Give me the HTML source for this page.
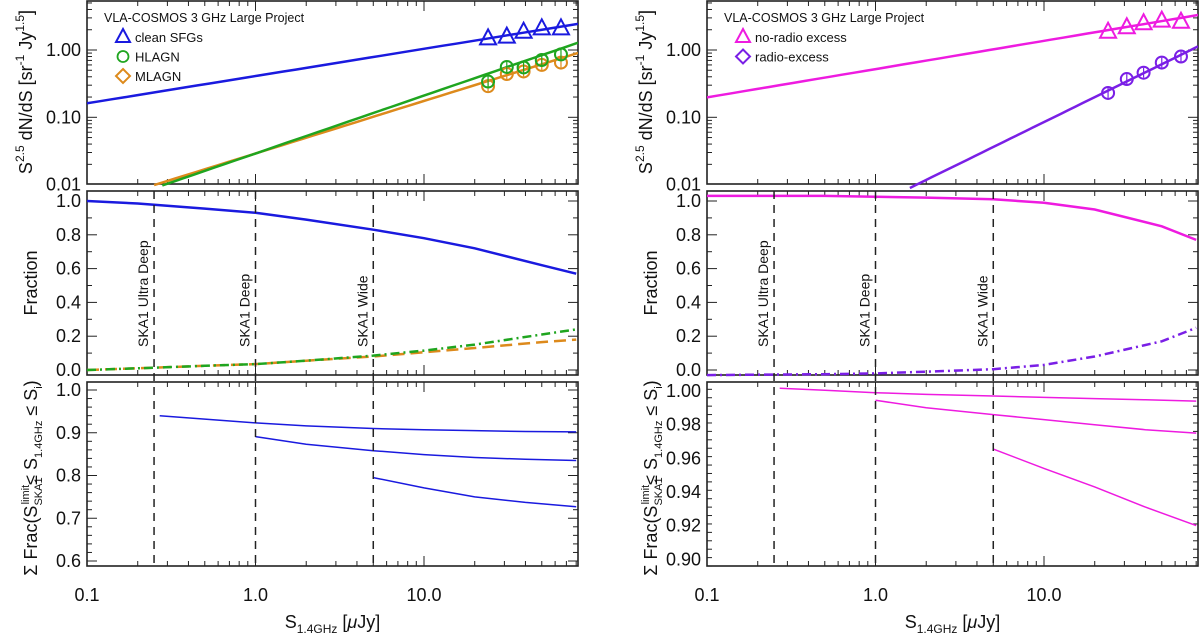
<!DOCTYPE html>
<html><head><meta charset="utf-8"><style>
html,body{margin:0;padding:0;background:#fff;}
svg{display:block;font-family:"Liberation Sans",Arial,sans-serif;}
</style></head><body>
<svg id="chart" width="1200" height="637" viewBox="0 0 1200 637" xmlns="http://www.w3.org/2000/svg"></svg>
<script>
// ---- data ----
const curveX = [0.1,0.2,0.5,1,2,5,10,20,50,80];
const obsX = [24,31,39,50,65];
const sfgObs = [1.49,1.58,1.87,2.1,2.1];
const hlagnObs = [0.34,0.56,0.55,0.71,0.86];
const mlagnObs = [0.29,0.44,0.48,0.60,0.65];
const noRadioObs = [1.87,2.18,2.5,2.73,2.63];
const radioExObs = [0.23,0.37,0.46,0.65,0.80];
// power-law fits: [x range lo, hi, norm at 1uJy, slope]
const sfgFit = [0.1,82,0.41,0.405];
const hlagnFit = [0.28,82,0.029,0.86];
const mlagnFit = [0.25,82,0.029,0.78];
const noRadioFit = [0.1,82,0.52,0.42];
const radioExFit = [1.6,82,0.005,1.23];
const sfgFrac = [1.0,0.985,0.955,0.93,0.89,0.83,0.78,0.72,0.62,0.57];
const hlagnFrac = [0.0,0.01,0.025,0.035,0.055,0.085,0.115,0.15,0.21,0.24];
const mlagnFrac = [0.0,0.01,0.025,0.035,0.055,0.08,0.105,0.13,0.165,0.18];
const noRadioFrac = [1.03,1.03,1.03,1.025,1.02,1.01,0.99,0.95,0.85,0.77];
const radioExFrac = [-0.03,-0.028,-0.025,-0.02,-0.01,0.005,0.03,0.08,0.17,0.25];
const skaLimits = [0.25,1.0,5.0];
const skaNames = ["SKA1 Ultra Deep","SKA1 Deep","SKA1 Wide"];
const cumX1 = [0.27,0.5,1,2,5,10,20,40,80];
const cumSfg1 = [0.94,0.932,0.923,0.916,0.910,0.907,0.905,0.903,0.902];
const cumX2 = [1,2,5,10,20,40,80];
const cumSfg2 = [0.891,0.873,0.858,0.849,0.842,0.838,0.835];
const cumX3 = [5,10,20,40,80];
const cumSfg3 = [0.795,0.771,0.75,0.737,0.727];
const cumNR1 = [1.0016,1.0005,0.999,0.998,0.997,0.9962,0.9955,0.9948,0.994];
const cumNR2 = [0.9945,0.990,0.986,0.983,0.980,0.977,0.975];
const cumNR3 = [0.9655,0.954,0.943,0.931,0.92];
const xTickLabels = ["0.1","1.0","10.0"];
const xTickVals = [0.1,1,10];

const NS="http://www.w3.org/2000/svg";
const svg=document.getElementById('chart');
function el(tag,attrs,parent){const e=document.createElementNS(NS,tag);for(const k in attrs)e.setAttribute(k,attrs[k]);(parent||svg).appendChild(e);return e;}

function makePanel(x0){
  const x1=x0+491;
  const sx=v=>x0+168.5*(Math.log10(v)+1);
  return {x0,x1,sx};
}
const L=makePanel(87), R=makePanel(707);
const TOP={y0:1,y1:184,sy:v=>50-67.3*Math.log10(v)};
const MID={y0:191,y1:375,sy:v=>370-169*v};
const BOTL={y0:382,y1:566,sy:v=>390+427.5*(1-v)};
const BOTR={y0:382,y1:566,sy:v=>391+1683*(1-v)};

function frame(P,Y,name){
  const g=el('g',{});
  
  
  for(let d=-1;d<=1;d++){for(let m=1;m<=9;m++){const v=m*Math.pow(10,d);const x=P.sx(v);if(x>P.x1+0.5)continue;const len=m==1?10:5;
    el('line',{x1:x,x2:x,y1:Y.y1,y2:Y.y1-len,stroke:'#222','stroke-width':1},g);
    el('line',{x1:x,x2:x,y1:Y.y0,y2:Y.y0+len,stroke:'#222','stroke-width':1},g);}}
  el('rect',{x:P.x0,y:Y.y0,width:P.x1-P.x0,height:Y.y1-Y.y0,fill:'none',stroke:'#222','stroke-width':1.6},g);
  return g;
}
function yticks(P,Y,vals,major,labels,name){
  const g=el('g',{});
  
  
  vals.forEach((v,i)=>{const y=Y.sy(v);if(y<Y.y0-0.5||y>Y.y1+0.5)return;const len=major[i]?10:5;
    el('line',{x1:P.x0,x2:P.x0+len,y1:y,y2:y,stroke:'#222','stroke-width':1},g);
    el('line',{x1:P.x1,x2:P.x1-len,y1:y,y2:y,stroke:'#222','stroke-width':1},g);});
  labels.forEach(([v,t])=>{const tx=el('text',{x:P.x0-6,y:Y.sy(v)+6,'text-anchor':'end','font-size':18,fill:'#111'},g);tx.textContent=t;});
}
function path(P,Y,xs,ys,color,w,dash,name){
  let d='';xs.forEach((x,i)=>{d+=(i?'L':'M')+P.sx(x).toFixed(1)+','+Y.sy(ys[i]).toFixed(1);});
  const p=el('path',{d,fill:'none',stroke:color,'stroke-width':w,'stroke-dasharray':dash||'none','clip-path':'url(#clip'+(P===L?'L':'R')+')'});
  
  
}
function fitLine(P,fit,color,name){
  const xs=[],ys=[];for(let i=0;i<=40;i++){const lx=Math.log10(fit[0])+(Math.log10(fit[1])-Math.log10(fit[0]))*i/40;const x=Math.pow(10,lx);xs.push(x);ys.push(fit[2]*Math.pow(x,fit[3]));}
  path(P,TOP,xs,ys,color,2.5,null,name);
}
function triangles(P,xs,ys,color,name){xs.forEach((x,i)=>{const cx=P.sx(x),cy=TOP.sy(ys[i]);
  const t=el('path',{d:`M${cx-8},${cy+6}L${cx+8},${cy+6}L${cx},${cy-9}Z`,fill:'none',stroke:color,'stroke-width':2});
  
  });}
function circles(P,xs,ys,color,r,name){xs.forEach((x,i)=>{const cx=P.sx(x),cy=TOP.sy(ys[i]);
  const c=el('circle',{cx,cy,r,fill:'none',stroke:color,'stroke-width':2});
  
  
  el('line',{x1:cx,x2:cx,y1:cy-r+1,y2:cy+r-1,stroke:color,'stroke-width':1.2});});}

const defs=el('defs',{});
[['L',L],['R',R]].forEach(([k,P])=>{const cp=el('clipPath',{id:'clip'+k},defs);el('rect',{x:P.x0,y:0,width:491,height:637},cp);});

function skaLines(P){
  skaLimits.forEach((v,i)=>{const x=P.sx(v);
    const ln=el('line',{x1:x,x2:x,y1:MID.y0,y2:BOTL.y1,stroke:'#222','stroke-width':1.5,'stroke-dasharray':'8,6'});
    
    
    const t=el('text',{x:0,y:0,'font-size':14,fill:'#111','text-anchor':'start',transform:`translate(${x-6},347) rotate(-90)`});
    
    
    t.textContent=skaNames[i];});
}

function axesCommon(P,BOT,botVals,botMajor,botLabels,side){
  frame(P,TOP,side+'-top-frame');frame(P,MID,side+'-mid-frame');frame(P,BOT,side+'-bottom-frame');
  const tv=[],tm=[];for(let d=-2;d<=0;d++)for(let m=1;m<=9;m++){tv.push(m*Math.pow(10,d));tm.push(m==1);}
  yticks(P,TOP,tv,tm,[[0.01,'0.01'],[0.1,'0.10'],[1,'1.00']],side+'-top-y-ticks');
  const mv=[],mm=[];for(let i=0;i<=11;i++){mv.push(i*0.1);mm.push(i%2==0);}
  yticks(P,MID,mv,mm,[[0,'0.0'],[0.2,'0.2'],[0.4,'0.4'],[0.6,'0.6'],[0.8,'0.8'],[1.0,'1.0']],side+'-mid-y-ticks');
  yticks(P,BOT,botVals,botMajor,botLabels,side+'-bottom-y-ticks');
  xTickVals.forEach((v,i)=>{const t=el('text',{x:P.sx(v),y:601,'text-anchor':'middle','font-size':18,fill:'#111'});
    
    
    t.textContent=xTickLabels[i];});
  const xt=el('text',{x:(P.x0+P.x1)/2,y:628,'text-anchor':'middle','font-size':18,fill:'#111'});
  
  
  xt.innerHTML='S<tspan font-size="12" dy="5">1.4GHz</tspan><tspan dy="-5"> [</tspan><tspan font-style="italic">μ</tspan>Jy]';
  const yx=P.x0-60;
  const t1=el('text',{'font-size':18,fill:'#111','text-anchor':'middle',transform:`translate(${yx+5},92) rotate(-90)`});
  
  
  t1.innerHTML='S<tspan font-size="12" dy="-8">2.5</tspan><tspan dy="8"> dN/dS  [sr</tspan><tspan font-size="12" dy="-8">-1</tspan><tspan dy="8"> Jy</tspan><tspan font-size="12" dy="-8">1.5</tspan><tspan dy="8">]</tspan>';
  const t2=el('text',{'font-size':18,fill:'#111','text-anchor':'middle',transform:`translate(${yx+10},283) rotate(-90)`});
  
  
  t2.textContent='Fraction';
  const t3=el('text',{'font-size':18,fill:'#111','text-anchor':'middle',transform:`translate(${yx+10},478) rotate(-90)`});
  
  
  t3.innerHTML='Σ Frac(S<tspan font-size="11" dy="5">SKA1</tspan><tspan font-size="11" dx="-27" dy="-13">limit</tspan><tspan dy="8">≤ S</tspan><tspan font-size="11" dy="5">1.4GHz</tspan><tspan dy="-5"> ≤ S</tspan><tspan font-size="11" dy="5">i</tspan><tspan dy="-5">)</tspan>';
}
function legend(P,items){
  const g=el('g',{});
  
  
  const h=el('text',{x:P.x0+17,y:22,'font-size':12.5,fill:'#111'},g);h.textContent='VLA-COSMOS 3 GHz Large Project';
  items.forEach(([shape,color,label],i)=>{const cy=37+i*19.5,cx=P.x0+36;
    if(shape=='tri')el('path',{d:`M${cx-7},${cy+5}L${cx+7},${cy+5}L${cx},${cy-8}Z`,fill:'none',stroke:color,'stroke-width':2},g);
    else if(shape=='circ')el('circle',{cx,cy,r:5.5,fill:'none',stroke:color,'stroke-width':1.8},g);
    else el('path',{d:`M${cx},${cy-7}L${cx+7},${cy}L${cx},${cy+7}L${cx-7},${cy}Z`,fill:'none',stroke:color,'stroke-width':2},g);
    const t=el('text',{x:cx+12,y:cy+5,'font-size':13,fill:'#111'},g);t.textContent=label;});
}

const BLUE='#1a1adf',GREEN='#1fa51f',ORANGE='#dd8a1c',MAG='#ee1be0',PURP='#7a1fe6';
const blv=[],blm=[];for(let v=0.58;v<=1.021;v+=0.02){blv.push(+v.toFixed(2));blm.push(Math.abs(v*10-Math.round(v*10))<0.01);}
axesCommon(L,BOTL,blv,blm,[[0.6,'0.6'],[0.7,'0.7'],[0.8,'0.8'],[0.9,'0.9'],[1.0,'1.0']],'left');
const brv=[],brm=[];for(let v=0.896;v<=1.006;v+=0.005){brv.push(+v.toFixed(3));brm.push(Math.abs(v*50-Math.round(v*50))<0.01);}
axesCommon(R,BOTR,brv,brm,[[0.9,'0.90'],[0.92,'0.92'],[0.94,'0.94'],[0.96,'0.96'],[0.98,'0.98'],[1.0,'1.00']],'right');

fitLine(L,sfgFit,BLUE,'sfg-fit');fitLine(L,mlagnFit,ORANGE,'mlagn-fit');fitLine(L,hlagnFit,GREEN,'hlagn-fit');
triangles(L,obsX,sfgObs,BLUE,'sfg-point');
circles(L,obsX,mlagnObs,ORANGE,6,'mlagn-point');circles(L,obsX,hlagnObs,GREEN,6,'hlagn-point');
legend(L,[['tri',BLUE,'clean SFGs'],['circ',GREEN,'HLAGN'],['dia',ORANGE,'MLAGN']]);
path(L,MID,curveX,sfgFrac,BLUE,2.5,null,'sfg-fraction');
path(L,MID,curveX,mlagnFrac,ORANGE,2.5,'12,6','mlagn-fraction');
path(L,MID,curveX,hlagnFrac,GREEN,2.5,'9,4,2,4','hlagn-fraction');
path(L,BOTL,cumX1,cumSfg1,BLUE,1.5,null,'cum-frac-ultradeep');
path(L,BOTL,cumX2,cumSfg2,BLUE,1.5,null,'cum-frac-deep');
path(L,BOTL,cumX3,cumSfg3,BLUE,1.5,null,'cum-frac-wide');
skaLines(L);

fitLine(R,noRadioFit,MAG,'no-radio-excess-fit');fitLine(R,radioExFit,PURP,'radio-excess-fit');
triangles(R,obsX,noRadioObs,MAG,'no-radio-excess-point');
circles(R,obsX,radioExObs,PURP,6,'radio-excess-point');
legend(R,[['tri',MAG,'no-radio excess'],['dia',PURP,'radio-excess']]);
path(R,MID,curveX,noRadioFrac,MAG,2.5,null,'no-radio-excess-fraction');
path(R,MID,curveX,radioExFrac,PURP,2.5,'9,4,2,4','radio-excess-fraction');
path(R,BOTR,cumX1,cumNR1,MAG,1.5,null,'cum-frac-ultradeep');
path(R,BOTR,cumX2,cumNR2,MAG,1.5,null,'cum-frac-deep');
path(R,BOTR,cumX3,cumNR3,MAG,1.5,null,'cum-frac-wide');
skaLines(R);
</script>
</body></html>
